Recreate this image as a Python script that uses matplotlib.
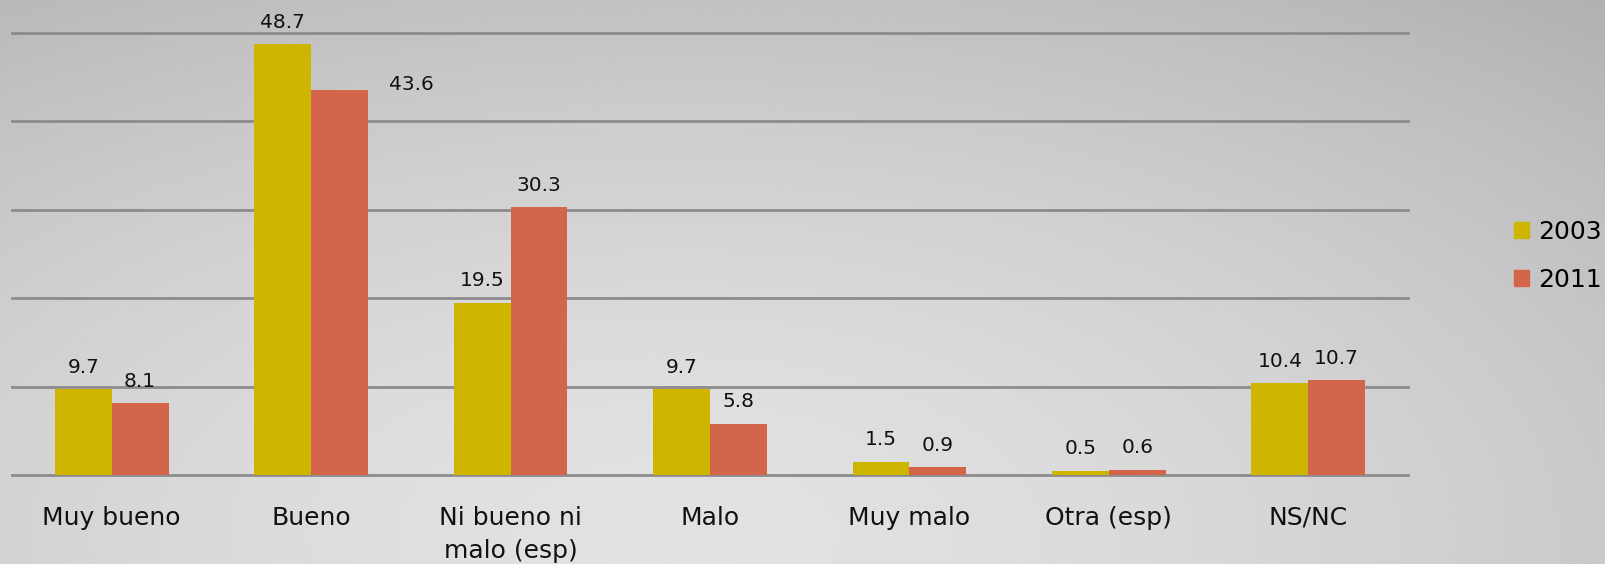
import numpy as np
import matplotlib
matplotlib.use("Agg")
import matplotlib.pyplot as plt
from matplotlib.patches import Patch

# categories and values
categories = ["Muy bueno", "Bueno", "Ni bueno ni\nmalo (esp)", "Malo",
              "Muy malo", "Otra (esp)", "NS/NC"]
v2003 = [9.7, 48.7, 19.5, 9.7, 1.5, 0.5, 10.4]
v2011 = [8.1, 43.6, 30.3, 5.8, 0.9, 0.6, 10.7]
series = ["2003", "2011"]

c2003 = "#CDB500"
c2011 = "#D3654B"

fig = plt.figure(figsize=(16.06, 5.64), dpi=100)

# grey radial-ish background
bg = fig.add_axes([0, 0, 1, 1], zorder=-10)
yy, xx = np.mgrid[0:1:300j, 0:1:800j]
d = np.sqrt(((xx - 0.42) * 1.25) ** 2 + ((yy - 0.95) * 0.9) ** 2)
img = 0.885 - 0.16 * d ** 1.6
bg.imshow(img, cmap="gray", vmin=0, vmax=1, aspect="auto",
          extent=[0, 1, 0, 1], origin="upper")
bg.axis("off")

ax = fig.add_axes([12 / 1606, 1 - 475 / 564, (1408 - 12) / 1606, (475 - 33) / 564])
ax.patch.set_alpha(0)

x = np.arange(len(categories))
w = 0.285
b1 = ax.bar(x - w / 2, v2003, w, color=c2003, zorder=3)
b2 = ax.bar(x + w / 2, v2011, w, color=c2011, zorder=3)

ax.set_xlim(-0.5, len(categories) - 0.5)
ax.set_ylim(0, 50)
ax.set_yticks(np.arange(0, 51, 10))
ax.yaxis.grid(True, color="#8c8c8c", linewidth=2, zorder=0)
for gl in ax.get_ygridlines():
    gl.set_clip_on(False)
ax.set_yticklabels([])
ax.tick_params(axis="y", length=0)
ax.tick_params(axis="x", length=0, pad=22, labelsize=18)
ax.set_xticks(x)
ax.set_xticklabels(categories, color="#111111", va="top", linespacing=1.5)
for s in ax.spines.values():
    s.set_visible(False)

for bars in (b1, b2):
    for r in bars:
        h = r.get_height()
        label = f"{h:.1f}"
        dx, dy = 0, 9
        if label == "43.6":
            dx, dy = 52, -3
        ax.annotate(label, (r.get_x() + r.get_width() / 2, h),
                    xytext=(dx, dy), textcoords="offset points",
                    ha="center", va="bottom", fontsize=14.5, color="#111111")

handles = [Patch(color=c2003), Patch(color=c2011)]
fig.legend(handles, series, loc="center left", bbox_to_anchor=(1514 / 1606, 1 - 256 / 564),
           frameon=False, fontsize=18, handlelength=0.6, handleheight=0.6,
           handletextpad=0.35, labelspacing=0.95, borderaxespad=0, borderpad=0)

fig.savefig("out.png", dpi=100)
